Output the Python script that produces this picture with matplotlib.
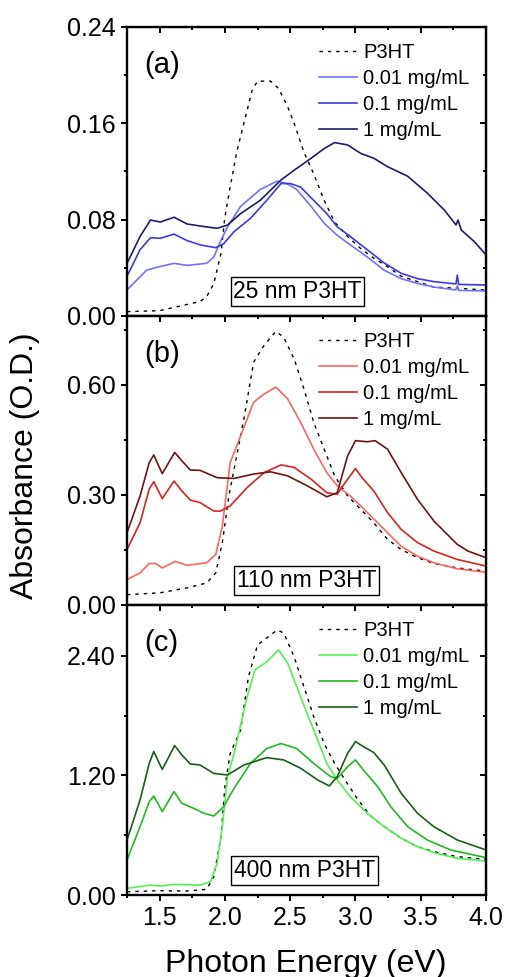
import numpy as np
import matplotlib
matplotlib.use("Agg")
import matplotlib.pyplot as plt
from matplotlib.ticker import MultipleLocator, FormatStrFormatter

plt.rcParams['font.family'] = ['Liberation Sans', 'DejaVu Sans']

labels = ['P3HT', '0.01 mg/mL', '0.1 mg/mL', '1 mg/mL']
thickness = ['25 nm P3HT', '110 nm P3HT', '400 nm P3HT']
panel_tags = ['(a)', '(b)', '(c)']

# ---- panel (a): 25 nm ----
a_p3ht_x = [1.25, 1.50, 1.81, 1.86, 1.915, 1.97, 2.00, 2.04, 2.09, 2.145, 2.21, 2.25, 2.35, 2.41, 2.48,
            2.54, 2.605, 2.68, 2.76, 2.84, 2.94, 3.04, 3.14, 3.245, 3.35, 3.475, 3.60, 3.78, 4.00]
a_p3ht_y = [0.0036, 0.0044, 0.012, 0.016, 0.027, 0.052, 0.0825, 0.107, 0.136, 0.160, 0.188, 0.195, 0.195,
            0.189, 0.174, 0.157, 0.136, 0.118, 0.096, 0.078, 0.066, 0.056, 0.048, 0.041, 0.033, 0.0285,
            0.024, 0.023, 0.0215]
a_001_x = [1.25, 1.40, 1.50, 1.61, 1.71, 1.86, 1.915, 1.97, 2.02, 2.12, 2.27, 2.40, 2.48, 2.55, 2.66,
           2.76, 2.86, 2.96, 3.09, 3.22, 3.35, 3.475, 3.60, 3.77, 3.78, 3.79, 4.00]
a_001_y = [0.0216, 0.038, 0.041, 0.0437, 0.042, 0.0437, 0.049, 0.063, 0.074, 0.091, 0.105, 0.112, 0.1096,
           0.105, 0.091, 0.077, 0.067, 0.059, 0.049, 0.038, 0.031, 0.027, 0.024, 0.0216, 0.025, 0.0212, 0.0208]
a_01_x = [1.25, 1.35, 1.43, 1.505, 1.61, 1.71, 1.81, 1.93, 1.99, 2.07, 2.195, 2.32, 2.43, 2.50, 2.58,
          2.68, 2.78, 2.86, 2.96, 3.09, 3.22, 3.35, 3.475, 3.60, 3.77, 3.78, 3.79, 4.00]
a_01_y = [0.033, 0.055, 0.065, 0.0645, 0.068, 0.0626, 0.059, 0.0567, 0.060, 0.070, 0.081, 0.096, 0.110,
          0.110, 0.107, 0.096, 0.085, 0.074, 0.066, 0.055, 0.044, 0.0354, 0.031, 0.0285, 0.0266, 0.034,
          0.0262, 0.0257]
a_1_x = [1.25, 1.35, 1.43, 1.505, 1.61, 1.71, 1.81, 1.94, 2.02, 2.12, 2.27, 2.43, 2.53, 2.66, 2.76, 2.84,
         2.94, 3.04, 3.14, 3.245, 3.40, 3.55, 3.68, 3.77, 3.785, 3.81, 3.91, 4.00]
a_1_y = [0.0437, 0.066, 0.0797, 0.078, 0.082, 0.0764, 0.0747, 0.0728, 0.0755, 0.085, 0.096, 0.113, 0.121,
         0.131, 0.139, 0.144, 0.142, 0.135, 0.131, 0.124, 0.116, 0.102, 0.088, 0.0756, 0.0797, 0.0714,
         0.0617, 0.0507]

# ---- panel (b): 110 nm ----
b_p3ht_x = [1.25, 1.50, 1.71, 1.86, 1.93, 1.98, 2.03, 2.08, 2.145, 2.22, 2.30, 2.39, 2.45, 2.53, 2.605,
            2.68, 2.76, 2.84, 2.94, 3.04, 3.14, 3.245, 3.35, 3.475, 3.60, 3.78, 4.00]
b_p3ht_y = [0.028, 0.033, 0.0465, 0.060, 0.0875, 0.170, 0.297, 0.388, 0.507, 0.662, 0.708, 0.746, 0.730,
            0.671, 0.589, 0.498, 0.425, 0.352, 0.297, 0.261, 0.224, 0.179, 0.151, 0.129, 0.113, 0.101, 0.092]
b_001_x = [1.25, 1.35, 1.42, 1.47, 1.52, 1.62, 1.71, 1.86, 1.93, 1.98, 2.04, 2.12, 2.22, 2.30, 2.39, 2.48,
           2.58, 2.68, 2.78, 2.86, 2.96, 3.04, 3.17, 3.245, 3.35, 3.475, 3.60, 3.78, 4.00]
b_001_y = [0.069, 0.0875, 0.113, 0.113, 0.101, 0.119, 0.108, 0.115, 0.138, 0.215, 0.388, 0.461, 0.553,
           0.575, 0.594, 0.562, 0.498, 0.425, 0.361, 0.325, 0.297, 0.270, 0.224, 0.197, 0.160, 0.133,
           0.115, 0.0985, 0.089]
b_01_x = [1.25, 1.35, 1.42, 1.455, 1.52, 1.61, 1.67, 1.735, 1.81, 1.915, 1.965, 2.04, 2.17, 2.30, 2.43,
          2.53, 2.66, 2.78, 2.86, 2.94, 3.00, 3.05, 3.14, 3.245, 3.35, 3.475, 3.60, 3.78, 4.00]
b_01_y = [0.151, 0.224, 0.316, 0.336, 0.290, 0.338, 0.311, 0.286, 0.279, 0.256, 0.256, 0.270, 0.320,
          0.361, 0.382, 0.375, 0.343, 0.306, 0.302, 0.343, 0.372, 0.347, 0.311, 0.252, 0.206, 0.170,
          0.147, 0.124, 0.106]
b_1_x = [1.25, 1.35, 1.42, 1.455, 1.52, 1.615, 1.67, 1.735, 1.81, 1.94, 2.07, 2.22, 2.35, 2.48, 2.63,
         2.78, 2.86, 2.94, 3.00, 3.09, 3.15, 3.245, 3.35, 3.475, 3.60, 3.78, 3.86, 4.00]
b_1_y = [0.197, 0.297, 0.388, 0.409, 0.358, 0.416, 0.393, 0.368, 0.367, 0.347, 0.345, 0.357, 0.363,
         0.352, 0.325, 0.295, 0.306, 0.407, 0.448, 0.445, 0.448, 0.425, 0.361, 0.288, 0.229, 0.165,
         0.147, 0.129]

# ---- panel (c): 400 nm ----
c_p3ht_x = [1.25, 1.50, 1.71, 1.86, 1.915, 1.97, 2.00, 2.04, 2.12, 2.18, 2.25, 2.32, 2.40, 2.45, 2.53,
            2.605, 2.68, 2.76, 2.84, 2.92, 3.02, 3.12, 3.22, 3.35, 3.475, 3.60, 3.78, 4.00]
c_p3ht_y = [0.033, 0.0435, 0.040, 0.057, 0.184, 0.586, 1.088, 1.42, 1.657, 2.19, 2.51, 2.58, 2.66, 2.63,
            2.39, 2.09, 1.79, 1.52, 1.32, 1.155, 0.954, 0.787, 0.686, 0.569, 0.485, 0.435, 0.385, 0.358]
c_001_x = [1.25, 1.43, 1.505, 1.61, 1.81, 1.89, 1.94, 1.98, 2.02, 2.07, 2.17, 2.23, 2.32, 2.41, 2.48,
           2.55, 2.63, 2.71, 2.78, 2.86, 2.96, 3.09, 3.22, 3.35, 3.475, 3.60, 3.78, 4.00]
c_001_y = [0.067, 0.100, 0.090, 0.107, 0.100, 0.134, 0.318, 0.686, 1.188, 1.42, 1.99, 2.26, 2.34, 2.46,
           2.33, 2.09, 1.82, 1.556, 1.32, 1.155, 0.987, 0.820, 0.686, 0.569, 0.485, 0.425, 0.368, 0.341]
c_01_x = [1.25, 1.35, 1.42, 1.455, 1.52, 1.61, 1.67, 1.76, 1.84, 1.915, 1.99, 2.07, 2.195, 2.32, 2.43,
          2.55, 2.68, 2.81, 2.86, 2.94, 3.00, 3.06, 3.17, 3.27, 3.40, 3.55, 3.73, 4.00]
c_01_y = [0.351, 0.686, 0.937, 0.994, 0.837, 1.038, 0.920, 0.870, 0.820, 0.793, 0.887, 1.071, 1.32, 1.47,
          1.52, 1.47, 1.32, 1.188, 1.17, 1.289, 1.356, 1.255, 1.088, 0.887, 0.686, 0.552, 0.452, 0.375]
c_1_x = [1.25, 1.35, 1.42, 1.455, 1.52, 1.615, 1.67, 1.735, 1.81, 1.915, 2.02, 2.145, 2.32, 2.45, 2.58,
         2.71, 2.80, 2.86, 2.94, 3.00, 3.06, 3.14, 3.22, 3.35, 3.475, 3.60, 3.78, 4.00]
c_1_y = [0.552, 0.954, 1.32, 1.44, 1.26, 1.50, 1.406, 1.315, 1.305, 1.22, 1.205, 1.305, 1.379, 1.356,
         1.272, 1.155, 1.095, 1.188, 1.423, 1.54, 1.49, 1.43, 1.305, 1.021, 0.820, 0.686, 0.552, 0.452]

panels = [
    dict(curves=[(a_p3ht_x, a_p3ht_y), (a_001_x, a_001_y), (a_01_x, a_01_y), (a_1_x, a_1_y)],
         colors=['#7272ff', '#3a3ae6', '#1c1c72'], ylim=0.24, major=0.08, box_x=0.475),
    dict(curves=[(b_p3ht_x, b_p3ht_y), (b_001_x, b_001_y), (b_01_x, b_01_y), (b_1_x, b_1_y)],
         colors=['#ff6464', '#dd2222', '#6e1414'], ylim=0.788, major=0.30, box_x=0.50),
    dict(curves=[(c_p3ht_x, c_p3ht_y), (c_001_x, c_001_y), (c_01_x, c_01_y), (c_1_x, c_1_y)],
         colors=['#55ee55', '#22b822', '#1b5e1b'], ylim=2.91, major=1.20, box_x=0.494),
]

fig = plt.figure(figsize=(5.05, 9.77), dpi=100)
left, width = 0.2515, 0.711
bottoms = [0.6766, 0.3808, 0.0839]
heights = [0.2958, 0.2958, 0.2968]

for i, p in enumerate(panels):
    ax = fig.add_axes([left, bottoms[i], width, heights[i]])
    (px, py) = p['curves'][0]
    ax.plot(px, py, color='black', lw=1.0, ls=(0, (2.5, 3.5)), label=labels[0])
    for (cx, cy), col, lab in zip(p['curves'][1:], p['colors'], labels[1:]):
        ax.plot(cx, cy, color=col, lw=1.2, label=lab)
    ax.set_xlim(1.25, 4.0)
    ax.set_ylim(0, p['ylim'])
    ax.xaxis.set_major_locator(MultipleLocator(0.5))
    ax.xaxis.set_minor_locator(MultipleLocator(0.25))
    ax.yaxis.set_major_locator(MultipleLocator(p['major']))
    ax.yaxis.set_minor_locator(MultipleLocator(p['major'] / 2))
    ax.yaxis.set_major_formatter(FormatStrFormatter('%.2f'))
    ax.xaxis.set_major_formatter(FormatStrFormatter('%.1f'))
    ax.tick_params(which='both', direction='out', labelsize=18, width=1.4)
    ax.tick_params(which='major', length=4, pad=4)
    ax.tick_params(which='minor', length=2.2)
    if i < 2:
        ax.tick_params(axis='x', labelbottom=False)
    for s in ax.spines.values():
        s.set_linewidth(1.7)

    # mirrored ticks pointing inward on top and right
    top = ax.secondary_xaxis('top')
    top.xaxis.set_major_locator(MultipleLocator(0.5))
    top.xaxis.set_minor_locator(MultipleLocator(0.25))
    top.tick_params(which='both', direction='in', labeltop=False, width=1.4)
    top.tick_params(which='major', length=4)
    top.tick_params(which='minor', length=2.2)
    right = ax.secondary_yaxis('right')
    right.yaxis.set_major_locator(MultipleLocator(p['major']))
    right.yaxis.set_minor_locator(MultipleLocator(p['major'] / 2))
    right.tick_params(which='both', direction='in', labelright=False, width=1.4)
    right.tick_params(which='major', length=4)
    right.tick_params(which='minor', length=2.2)

    ax.legend(loc='upper left', bbox_to_anchor=(0.535, 0.945), frameon=False, fontsize=14.5,
              handlelength=1.9, handletextpad=0.3, labelspacing=0.35, borderpad=0, borderaxespad=0)
    ax.text(0.047, 0.87, panel_tags[i], transform=ax.transAxes, fontsize=21, va='center', ha='left')
    ax.text(p['box_x'], 0.085, thickness[i], transform=ax.transAxes, fontsize=16.5, va='center',
            ha='center', bbox=dict(boxstyle='square,pad=0.12', fc='white', ec='black', lw=1.0))

fig.text(25 / 505, 1 - 466 / 977, 'Absorbance (O.D.)', rotation=90, fontsize=23, va='center', ha='center')
fig.text(306 / 505, 1 - 972 / 977, 'Photon Energy (eV)', fontsize=23, va='baseline', ha='center')

fig.savefig('out.png', dpi=100)
